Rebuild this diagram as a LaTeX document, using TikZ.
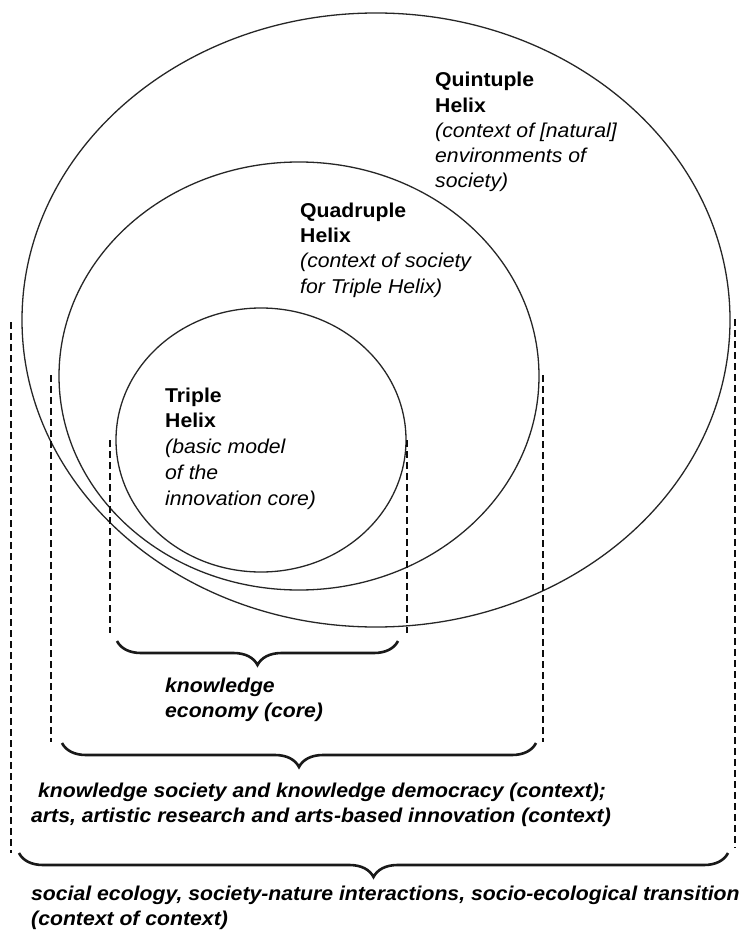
\documentclass[tikz,border=0pt]{standalone}
\usepackage{fontspec}
\setmainfont[FakeStretch=1.06]{Liberation Sans}
\usetikzlibrary{decorations.pathreplacing,shapes.geometric}
\begin{document}
\begin{tikzpicture}[x=1pt,y=-1pt,
  ring/.style={ellipse, draw=black!85, line width=1.3pt, inner sep=0pt, outer sep=0pt},
  guide/.style={draw=black!95, line width=2.4pt, dash pattern=on 7pt off 4pt},
  bracebar/.style={draw=black!90, line width=2.6pt, decorate, decoration={brace, mirror, amplitude=24pt}},
  lbl/.style={anchor=base west, inner sep=0pt, align=left, font=\fontsize{20}{25.3}\selectfont},
  blbl/.style={anchor=base west, inner sep=0pt, align=left, font=\fontsize{20}{25}\selectfont\bfseries\itshape},
]
\useasboundingbox (0,0) rectangle (741,933);

% ellipses
\node[ring, minimum width=708pt, minimum height=614pt] (quint) at (376,320) {};
\node[ring, minimum width=480pt, minimum height=428pt] (quad) at (299,376) {};
\node[ring, minimum width=290pt, minimum height=264pt] (triple) at (261,440) {};

% dashed guides
\coordinate (o1t) at (11,322); \coordinate (o1b) at (11,853);
\coordinate (o2t) at (735,319); \coordinate (o2b) at (735,848);
\coordinate (m1t) at (51,375); \coordinate (m1b) at (51,742);
\coordinate (m2t) at (543,375); \coordinate (m2b) at (543,742);
\coordinate (i1t) at (110,440); \coordinate (i1b) at (110,633);
\coordinate (i2t) at (407,440); \coordinate (i2b) at (407,633);
\draw[guide] (o1t) -- (o1b);
\draw[guide] (o2t) -- (o2b);
\draw[guide] (m1t) -- (m1b);
\draw[guide] (m2t) -- (m2b);
\draw[guide] (i1t) -- (i1b);
\draw[guide] (i2t) -- (i2b);

% braces
\coordinate (bi1) at (117,641); \coordinate (bi2) at (398,641);
\coordinate (bm1) at (62,743); \coordinate (bm2) at (536,743);
\coordinate (bo1) at (19,853); \coordinate (bo2) at (728,853);
\draw[bracebar] (bi1) -- (bi2);
\draw[bracebar] (bm1) -- (bm2);
\draw[bracebar] (bo1) -- (bo2);

% labels (anchored at the baseline of their last line)
\node[lbl] (tquint) at (435,188) {\textbf{Quintuple}\\\textbf{Helix}\\\textit{(context of [natural]}\\\textit{environments of}\\\textit{society)}};
\node[lbl] (tquad) at (300,293) {\textbf{Quadruple}\\\textbf{Helix}\\\textit{(context of society}\\\textit{for Triple Helix)}};
\node[lbl, font=\fontsize{20}{25.75}\selectfont] (ttriple) at (165,505) {\textbf{Triple}\\\textbf{Helix}\\\textit{(basic model}\\\textit{of the}\\\textit{innovation core)}};

\node[blbl] (tcore) at (165,717) {knowledge\\economy (core)};
\node[blbl] (tctx) at (31,822) {\hspace{7pt}knowledge society and knowledge democracy (context);\\arts, artistic research and arts-based innovation (context)};
\node[blbl] (tcc) at (31,925) {social ecology, society-nature interactions, socio-ecological transition\\(context of context)};
\end{tikzpicture}
\end{document}
